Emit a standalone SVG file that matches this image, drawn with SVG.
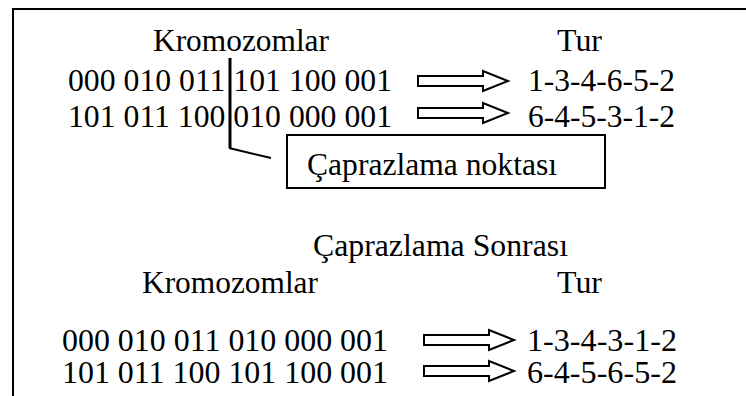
<svg xmlns="http://www.w3.org/2000/svg" xmlns:xlink="http://www.w3.org/1999/xlink" width="746" height="396" viewBox="0 0 746 396">
  <style>
    text { font-family: "Liberation Serif", "Times New Roman", serif; font-size: 31.5px; fill: #000; }
    .frame { stroke: #000; stroke-width: 2; fill: none; }
    .block { fill: #fff; stroke: #000; stroke-width: 2; stroke-linejoin: miter; }
  </style>
  <defs>
    <!-- hollow block arrow, origin at left end of the shaft centre line -->
    <path id="blockArrow" class="block" d="M0,-5 H65 V-10 L90,0 L65,10 V5 H0 Z"/>
  </defs>

  <rect width="746" height="396" fill="#fff"/>

  <!-- outer frame (top and left edges) -->
  <g id="frame">
    <line class="frame" x1="12" y1="9" x2="746" y2="9"/>
    <line class="frame" x1="13" y1="8" x2="13" y2="396"/>
  </g>

  <!-- before crossover -->
  <g id="header-before">
    <text x="153" y="51" textLength="176" lengthAdjust="spacingAndGlyphs">Kromozomlar</text>
    <text x="557" y="51" textLength="45" lengthAdjust="spacingAndGlyphs">Tur</text>
  </g>
  <g id="chromosome-1">
    <text x="68" y="91" textLength="324" lengthAdjust="spacingAndGlyphs">000 010 011 101 100 001</text>
  </g>
  <g id="chromosome-2">
    <text x="68" y="127" textLength="324" lengthAdjust="spacingAndGlyphs">101 011 100 010 000 001</text>
  </g>
  <g id="tour-1">
    <text x="528" y="91" textLength="147" lengthAdjust="spacingAndGlyphs">1-3-4-6-5-2</text>
  </g>
  <g id="tour-2">
    <text x="528" y="127" textLength="147" lengthAdjust="spacingAndGlyphs">6-4-5-3-1-2</text>
  </g>

  <!-- crossover point callout -->
  <g id="crossover-label">
    <rect class="frame" x="287" y="135" width="318" height="53"/>
    <text x="307" y="175" textLength="250" lengthAdjust="spacingAndGlyphs">Çaprazlama noktası</text>
  </g>

  <!-- after crossover -->
  <g id="header-after">
    <text x="313" y="256" textLength="255" lengthAdjust="spacingAndGlyphs">Çaprazlama Sonrası</text>
    <text x="142" y="293" textLength="176" lengthAdjust="spacingAndGlyphs">Kromozomlar</text>
    <text x="557" y="293" textLength="45" lengthAdjust="spacingAndGlyphs">Tur</text>
  </g>
  <g id="chromosome-3">
    <text x="62" y="351" textLength="326" lengthAdjust="spacingAndGlyphs">000 010 011 010 000 001</text>
  </g>
  <g id="chromosome-4">
    <text x="62" y="383" textLength="326" lengthAdjust="spacingAndGlyphs">101 011 100 101 100 001</text>
  </g>
  <g id="tour-3">
    <text x="527" y="351" textLength="150" lengthAdjust="spacingAndGlyphs">1-3-4-3-1-2</text>
  </g>
  <g id="tour-4">
    <text x="527" y="383" textLength="150" lengthAdjust="spacingAndGlyphs">6-4-5-6-5-2</text>
  </g>

  <!-- connectors -->
  <g id="connectors">
    <line x1="230" y1="58" x2="230" y2="148" stroke="#000" stroke-width="3"/>
    <line x1="229" y1="148" x2="271" y2="158" stroke="#000" stroke-width="2"/>
    <use xlink:href="#blockArrow" transform="translate(418,81)"/>
    <use xlink:href="#blockArrow" transform="translate(418,113)"/>
    <use xlink:href="#blockArrow" transform="translate(424,340)"/>
    <use xlink:href="#blockArrow" transform="translate(424,371)"/>
  </g>
</svg>
